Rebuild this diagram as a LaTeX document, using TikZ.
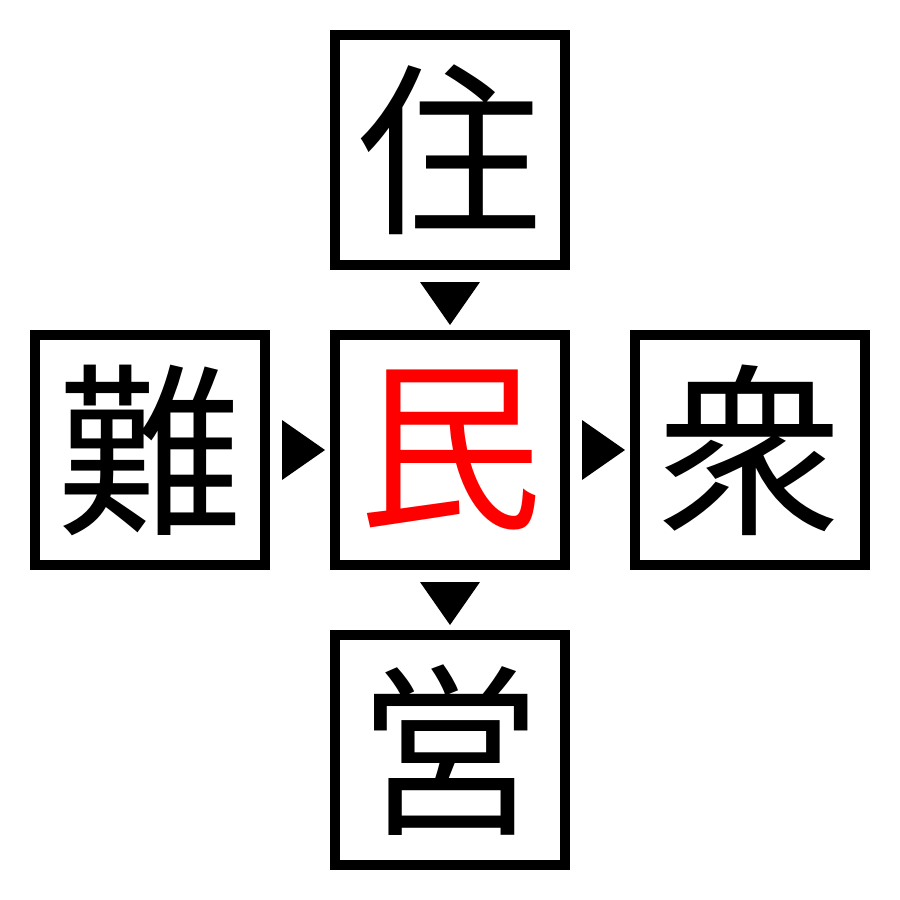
\documentclass[tikz,border=0pt]{standalone}
\usepackage{fontspec}
\newfontfamily\cjk{Noto Sans CJK JP}
\usetikzlibrary{calc}
\begin{document}
\begin{tikzpicture}[x=1pt,y=-1pt,
  kbox/.style={draw=black,line width=10pt,minimum size=230pt,inner sep=0pt,
    font=\cjk\fontsize{185}{185}\selectfont},
  tri/.style={fill=black}]
\useasboundingbox (0,0) rectangle (900,900);
\node[kbox] (top) at (450,150) {住};
\node[kbox] (left) at (150,450) {難};
\node[kbox,text=red] (mid) at (450,450) {民};
\node[kbox] (right) at (750,450) {衆};
\node[kbox] (bot) at (450,750) {営};
% down triangle top -> mid
\fill[tri] ($(top.south)+(-30,12)$) -- ($(top.south)+(30,12)$) -- ($(mid.north)+(0,-5)$) -- cycle;
% right triangle left -> mid
\fill[tri] ($(left.east)+(12,-30)$) -- ($(left.east)+(12,30)$) -- ($(mid.west)+(-5,0)$) -- cycle;
% right triangle mid -> right
\fill[tri] ($(mid.east)+(12,-30)$) -- ($(mid.east)+(12,30)$) -- ($(right.west)+(-5,0)$) -- cycle;
% down triangle mid -> bot
\fill[tri] ($(mid.south)+(-30,12)$) -- ($(mid.south)+(30,12)$) -- ($(bot.north)+(0,-5)$) -- cycle;
\end{tikzpicture}
\end{document}
